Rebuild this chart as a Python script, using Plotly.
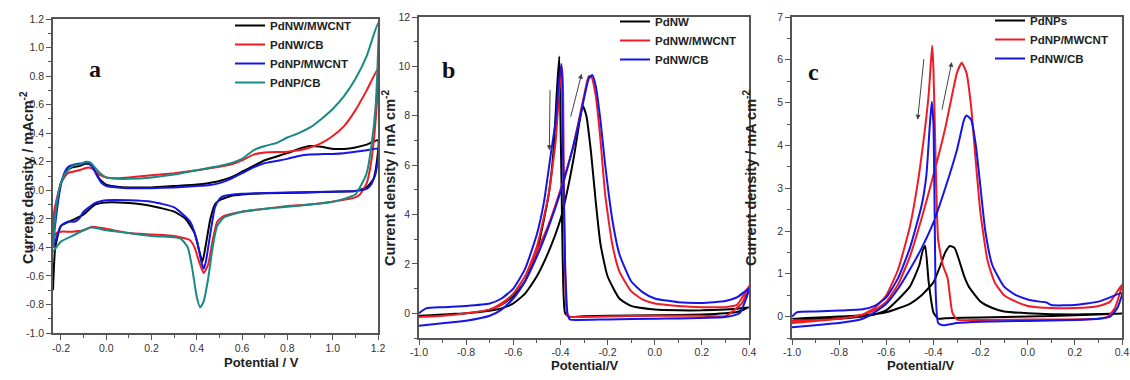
import plotly.graph_objects as go

W, H = 1130, 380

# ---------------- Panel a data (potential V, current density mA cm-2) ----------------
a_legend = ["PdNW/MWCNT", "PdNW/CB", "PdNP/MWCNT", "PdNP/CB"]
a_colors = ["#000000", "#ee1c25", "#1515e6", "#178a84"]

a_nw_mwcnt = [(-0.235, -0.3), (-0.2, 0.05), (-0.17, 0.14), (-0.15, 0.16), (-0.12, 0.17), (-0.09, 0.185),
              (-0.07, 0.18), (-0.05, 0.14), (-0.03, 0.08), (0.0, 0.04), (0.05, 0.025), (0.1, 0.02), (0.2, 0.02),
              (0.3, 0.03), (0.4, 0.04), (0.45, 0.05), (0.5, 0.065), (0.55, 0.09), (0.6, 0.13), (0.65, 0.17),
              (0.7, 0.21), (0.8, 0.26), (0.85, 0.29), (0.9, 0.31), (0.95, 0.305), (1.0, 0.29), (1.05, 0.29),
              (1.1, 0.3), (1.15, 0.32), (1.2, 0.35),
              (1.195, 0.2), (1.18, 0.08), (1.15, 0.02), (1.1, -0.005), (1.0, -0.01), (0.9, -0.015), (0.7, -0.02),
              (0.6, -0.03), (0.55, -0.04), (0.5, -0.07), (0.48, -0.1), (0.46, -0.2), (0.44, -0.38), (0.425, -0.5),
              (0.41, -0.42), (0.39, -0.3), (0.35, -0.2), (0.3, -0.15), (0.2, -0.11), (0.1, -0.09), (0.0, -0.085),
              (-0.05, -0.1), (-0.1, -0.17), (-0.15, -0.21), (-0.2, -0.25), (-0.225, -0.4), (-0.235, -0.7)]

a_nw_cb = [(-0.235, -0.3), (-0.23, -0.15), (-0.2, 0.05), (-0.17, 0.12), (-0.12, 0.14), (-0.08, 0.16),
           (-0.06, 0.15), (-0.03, 0.11), (0.0, 0.09), (0.05, 0.085), (0.1, 0.09), (0.2, 0.105), (0.3, 0.12),
           (0.4, 0.14), (0.5, 0.165), (0.55, 0.18), (0.6, 0.21), (0.65, 0.25), (0.7, 0.265), (0.8, 0.27),
           (0.85, 0.28), (0.9, 0.3), (0.95, 0.33), (1.0, 0.38), (1.05, 0.45), (1.1, 0.56), (1.15, 0.7), (1.2, 0.85),
           (1.19, 0.5), (1.17, 0.2), (1.15, 0.05), (1.12, -0.03), (1.1, -0.05), (1.0, -0.08), (0.9, -0.1),
           (0.8, -0.11), (0.7, -0.13), (0.6, -0.15), (0.52, -0.18), (0.49, -0.22), (0.47, -0.35), (0.45, -0.52),
           (0.43, -0.58), (0.41, -0.5), (0.39, -0.4), (0.37, -0.35), (0.3, -0.32), (0.2, -0.31), (0.1, -0.3),
           (0.0, -0.27), (-0.06, -0.255), (-0.1, -0.28), (-0.15, -0.29), (-0.2, -0.29), (-0.22, -0.3),
           (-0.235, -0.35)]

a_np_mwcnt = [(-0.235, -0.4), (-0.21, -0.05), (-0.19, 0.1), (-0.17, 0.16), (-0.14, 0.18), (-0.1, 0.19),
              (-0.08, 0.19), (-0.06, 0.16), (-0.04, 0.1), (-0.02, 0.05), (0.0, 0.03), (0.05, 0.02), (0.1, 0.015),
              (0.2, 0.015), (0.3, 0.02), (0.4, 0.03), (0.45, 0.035), (0.5, 0.05), (0.55, 0.08), (0.6, 0.12),
              (0.65, 0.16), (0.7, 0.19), (0.8, 0.22), (0.85, 0.24), (0.9, 0.25), (1.0, 0.255), (1.05, 0.26),
              (1.1, 0.27), (1.15, 0.28), (1.2, 0.29),
              (1.19, 0.12), (1.17, 0.04), (1.15, 0.01), (1.1, -0.005), (1.0, -0.01), (0.8, -0.015), (0.6, -0.025),
              (0.52, -0.04), (0.5, -0.06), (0.48, -0.12), (0.46, -0.3), (0.44, -0.5), (0.43, -0.55), (0.42, -0.5),
              (0.4, -0.35), (0.37, -0.22), (0.3, -0.12), (0.2, -0.08), (0.1, -0.07), (0.0, -0.07), (-0.05, -0.09),
              (-0.1, -0.15), (-0.12, -0.2), (-0.14, -0.22), (-0.17, -0.22), (-0.2, -0.25), (-0.235, -0.4)]

a_np_cb = [(-0.235, -0.4), (-0.22, -0.1), (-0.2, 0.05), (-0.18, 0.12), (-0.15, 0.17), (-0.12, 0.18),
           (-0.09, 0.2), (-0.07, 0.195), (-0.05, 0.16), (-0.02, 0.11), (0.0, 0.09), (0.05, 0.08), (0.1, 0.08),
           (0.2, 0.09), (0.3, 0.11), (0.4, 0.14), (0.5, 0.17), (0.55, 0.19), (0.6, 0.22), (0.65, 0.28),
           (0.7, 0.31), (0.75, 0.33), (0.8, 0.37), (0.85, 0.4), (0.9, 0.44), (0.95, 0.5), (1.0, 0.57),
           (1.05, 0.66), (1.1, 0.78), (1.15, 0.94), (1.2, 1.17),
           (1.19, 0.6), (1.17, 0.3), (1.15, 0.12), (1.12, 0.02), (1.1, -0.03), (1.05, -0.06), (1.0, -0.08),
           (0.9, -0.1), (0.8, -0.115), (0.7, -0.13), (0.6, -0.15), (0.52, -0.19), (0.49, -0.25), (0.47, -0.4),
           (0.45, -0.62), (0.43, -0.78), (0.415, -0.82), (0.4, -0.75), (0.38, -0.55), (0.36, -0.4), (0.33, -0.34),
           (0.3, -0.33), (0.2, -0.32), (0.1, -0.3), (0.0, -0.28), (-0.07, -0.26), (-0.1, -0.28), (-0.15, -0.32),
           (-0.2, -0.36), (-0.235, -0.43)]

# ---------------- Panel b data ----------------
b_legend = ["PdNW", "PdNW/MWCNT", "PdNW/CB"]
b_colors = ["#000000", "#ee1c25", "#1515e6"]

b_nw = [(-1.0, -0.1), (-0.9, -0.05), (-0.8, 0.0), (-0.7, 0.1), (-0.65, 0.2), (-0.6, 0.4), (-0.55, 0.8),
        (-0.5, 1.5), (-0.45, 2.5), (-0.4, 3.8), (-0.37, 5.0), (-0.34, 6.5), (-0.32, 7.7), (-0.305, 8.4),
        (-0.29, 8.0), (-0.27, 6.5), (-0.25, 4.5), (-0.23, 2.8), (-0.2, 1.5), (-0.15, 0.6), (-0.1, 0.3),
        (0.0, 0.15), (0.1, 0.12), (0.2, 0.12), (0.3, 0.15), (0.35, 0.18), (0.4, 0.25),
        (0.35, 0.05), (0.3, 0.0), (0.2, -0.05), (0.0, -0.08), (-0.2, -0.1), (-0.3, -0.12), (-0.36, -0.15),
        (-0.38, 0.0), (-0.39, 2.0), (-0.395, 5.0), (-0.4, 8.0), (-0.405, 10.4), (-0.415, 9.0), (-0.43, 6.5),
        (-0.45, 4.8), (-0.5, 2.5), (-0.55, 1.3), (-0.6, 0.7), (-0.65, 0.35), (-0.7, 0.15), (-0.8, 0.0),
        (-0.9, -0.05), (-1.0, -0.1)]

b_nw_mwcnt = [(-1.0, -0.15), (-0.9, -0.1), (-0.8, 0.0), (-0.7, 0.15), (-0.65, 0.35), (-0.6, 0.8),
              (-0.55, 1.5), (-0.5, 2.5), (-0.45, 3.6), (-0.4, 5.0), (-0.35, 6.6), (-0.32, 7.9), (-0.3, 8.8),
              (-0.28, 9.6), (-0.27, 9.6), (-0.25, 8.8), (-0.23, 7.0), (-0.21, 4.8), (-0.18, 2.8), (-0.15, 1.7),
              (-0.1, 0.9), (-0.05, 0.55), (0.0, 0.4), (0.1, 0.3), (0.2, 0.25), (0.3, 0.25), (0.35, 0.35),
              (0.4, 1.1),
              (0.37, 0.4), (0.34, 0.15), (0.32, 0.0), (0.3, -0.12), (0.2, -0.1), (0.0, -0.1), (-0.2, -0.13),
              (-0.3, -0.15), (-0.35, -0.15), (-0.37, -0.1), (-0.38, 1.5), (-0.385, 5.0), (-0.39, 9.5),
              (-0.395, 10.0), (-0.405, 9.0), (-0.42, 7.0), (-0.45, 4.8), (-0.5, 2.7), (-0.55, 1.5), (-0.6, 0.8),
              (-0.65, 0.4), (-0.7, 0.15), (-0.8, 0.0), (-0.9, -0.1), (-1.0, -0.15)]

b_nw_cb = [(-1.0, -0.5), (-0.9, -0.4), (-0.8, -0.3), (-0.7, -0.1), (-0.65, 0.15), (-0.6, 0.6), (-0.55, 1.3),
           (-0.5, 2.3), (-0.45, 3.5), (-0.4, 4.9), (-0.35, 6.6), (-0.32, 7.8), (-0.3, 8.7), (-0.28, 9.5),
           (-0.265, 9.65), (-0.25, 9.2), (-0.23, 7.8), (-0.21, 6.0), (-0.18, 3.8), (-0.15, 2.4), (-0.1, 1.3),
           (-0.05, 0.85), (0.0, 0.6), (0.1, 0.45), (0.2, 0.42), (0.3, 0.5), (0.35, 0.65), (0.4, 1.0),
           (0.38, 0.4), (0.36, 0.0), (0.3, -0.15), (0.0, -0.22), (-0.2, -0.25), (-0.33, -0.27), (-0.36, -0.25),
           (-0.37, 0.0), (-0.38, 2.0), (-0.39, 7.0), (-0.395, 10.1), (-0.405, 9.5), (-0.42, 7.8), (-0.44, 6.5),
           (-0.47, 4.5), (-0.5, 3.2), (-0.55, 1.8), (-0.6, 1.0), (-0.65, 0.6), (-0.7, 0.4), (-0.8, 0.3),
           (-0.9, 0.25), (-0.97, 0.2), (-1.0, 0.0)]

# ---------------- Panel c data ----------------
c_legend = ["PdNPs", "PdNP/MWCNT", "PdNW/CB"]
c_colors = ["#000000", "#ee1c25", "#1515e6"]

c_nps = [(-1.0, -0.05), (-0.8, 0.0), (-0.7, 0.03), (-0.6, 0.1), (-0.5, 0.3), (-0.45, 0.5), (-0.4, 0.8),
         (-0.37, 1.2), (-0.35, 1.5), (-0.33, 1.65), (-0.31, 1.6), (-0.29, 1.3), (-0.27, 0.95), (-0.25, 0.7),
         (-0.2, 0.35), (-0.15, 0.2), (-0.1, 0.12), (0.0, 0.08), (0.2, 0.05), (0.4, 0.07),
         (0.2, 0.03), (0.0, 0.0), (-0.2, -0.02), (-0.35, -0.04), (-0.38, -0.05), (-0.4, 0.1), (-0.42, 0.8),
         (-0.435, 1.65), (-0.445, 1.55), (-0.46, 1.2), (-0.5, 0.7), (-0.55, 0.4), (-0.6, 0.15), (-0.65, 0.05),
         (-0.7, 0.0), (-0.8, -0.05), (-1.0, -0.05)]

c_np_mwcnt = [(-1.0, -0.1), (-0.8, -0.05), (-0.7, 0.05), (-0.65, 0.15), (-0.6, 0.35), (-0.55, 0.75),
              (-0.5, 1.4), (-0.45, 2.3), (-0.4, 3.3), (-0.35, 4.4), (-0.32, 5.2), (-0.3, 5.7), (-0.28, 5.93),
              (-0.26, 5.7), (-0.24, 4.9), (-0.22, 3.6), (-0.2, 2.4), (-0.17, 1.3), (-0.14, 0.8), (-0.1, 0.5),
              (-0.05, 0.35), (0.0, 0.25), (0.1, 0.2), (0.2, 0.2), (0.3, 0.25), (0.35, 0.35), (0.4, 0.75),
              (0.37, 0.2), (0.34, 0.0), (0.3, -0.05), (0.0, -0.07), (-0.2, -0.08), (-0.3, -0.07), (-0.32, 0.1),
              (-0.34, 0.9), (-0.36, 1.2), (-0.38, 1.8), (-0.39, 3.5), (-0.4, 5.8), (-0.405, 6.33), (-0.41, 6.0),
              (-0.42, 5.2), (-0.44, 4.2), (-0.47, 3.0), (-0.5, 2.1), (-0.55, 1.1), (-0.6, 0.5), (-0.65, 0.2),
              (-0.7, 0.05), (-0.8, -0.05), (-1.0, -0.15)]

c_nw_cb = [(-1.0, -0.25), (-0.9, -0.2), (-0.8, -0.15), (-0.7, -0.05), (-0.65, 0.1), (-0.6, 0.3), (-0.55, 0.65),
           (-0.5, 1.1), (-0.45, 1.6), (-0.4, 2.2), (-0.35, 3.0), (-0.3, 3.9), (-0.27, 4.6), (-0.26, 4.7),
           (-0.24, 4.6), (-0.22, 4.0), (-0.2, 3.0), (-0.18, 2.0), (-0.15, 1.2), (-0.1, 0.7), (-0.05, 0.5),
           (0.0, 0.4), (0.05, 0.35), (0.08, 0.33), (0.1, 0.27), (0.2, 0.27), (0.3, 0.35), (0.35, 0.45),
           (0.4, 0.55),
           (0.38, 0.2), (0.35, 0.0), (0.3, -0.05), (0.2, -0.08), (0.0, -0.1), (-0.2, -0.12), (-0.3, -0.15),
           (-0.36, -0.2), (-0.38, -0.15), (-0.39, 0.5), (-0.395, 2.5), (-0.4, 4.5), (-0.407, 5.02),
           (-0.415, 4.5), (-0.43, 3.3), (-0.45, 2.6), (-0.5, 1.6), (-0.55, 0.9), (-0.6, 0.45), (-0.65, 0.25),
           (-0.7, 0.17), (-0.8, 0.14), (-0.9, 0.12), (-0.98, 0.1), (-1.0, 0.0)]

# tick labels
a_xticks = [-0.2, 0.0, 0.2, 0.4, 0.6, 0.8, 1.0, 1.2]
a_yticks = [-1.0, -0.8, -0.6, -0.4, -0.2, 0.0, 0.2, 0.4, 0.6, 0.8, 1.0, 1.2]
bc_xticks = [-1.0, -0.8, -0.6, -0.4, -0.2, 0.0, 0.2, 0.4]
b_yticks = [0, 2, 4, 6, 8, 10, 12]
c_yticks = [0, 1, 2, 3, 4, 5, 6, 7]

# arrows (tail -> head) in data coords
b_arrows = [((-0.444, 9.1), (-0.447, 6.6)), ((-0.358, 7.9), (-0.31, 9.7))]
c_arrows = [((-0.44, 6.05), (-0.467, 4.6)), ((-0.365, 4.8), (-0.322, 5.95))]


def lbl(v, fmt):
    return fmt % v


fig = go.Figure()

panels = [
    ("x", "y", "legend", [a_nw_mwcnt, a_nw_cb, a_np_mwcnt, a_np_cb], a_legend, a_colors),
    ("x2", "y2", "legend2", [b_nw, b_nw_mwcnt, b_nw_cb], b_legend, b_colors),
    ("x3", "y3", "legend3", [c_nps, c_np_mwcnt, c_nw_cb], c_legend, c_colors),
]
for xa, ya, lg, curves, names, cols in panels:
    for pts, nm, col in zip(curves, names, cols):
        fig.add_trace(go.Scatter(
            x=[p[0] for p in pts], y=[p[1] for p in pts], mode="lines", name=nm,
            line=dict(color=col, width=2, shape="spline", smoothing=0.5),
            xaxis=xa, yaxis=ya, legend=lg))

px_x = lambda p: p / W
px_y = lambda p: 1 - p / H

axis_common = dict(showline=True, mirror=True, linecolor="#555", linewidth=1.5, ticks="outside",
                   ticklen=5, tickwidth=1.2, tickcolor="#555", showgrid=False, zeroline=False,
                   automargin=False,
                   tickfont=dict(family="Liberation Sans, Arial", size=10.5, color="#333"))
minor_common = dict(ticks="outside", ticklen=3, tickcolor="#555", tick0=0)

fig.update_layout(
    width=W, height=H, margin=dict(l=0, r=0, t=0, b=0, autoexpand=False),
    paper_bgcolor="white", plot_bgcolor="white", showlegend=True,
    xaxis=dict(domain=[px_x(53), px_x(378)], range=[-0.235, 1.2], anchor="y",
               tickvals=a_xticks, ticktext=[lbl(v, "%.1f") for v in a_xticks],
               minor=dict(dtick=0.1, **minor_common), **axis_common),
    yaxis=dict(domain=[px_y(333), px_y(19)], range=[-1.0, 1.2], anchor="x",
               tickvals=a_yticks, ticktext=[lbl(v, "%.1f") for v in a_yticks],
               minor=dict(dtick=0.1, **minor_common), **axis_common),
    xaxis2=dict(domain=[px_x(419), px_x(749)], range=[-1.0, 0.4], anchor="y2",
                tickvals=bc_xticks, ticktext=[lbl(v, "%.1f") for v in bc_xticks], ticklabelstandoff=-1,
                minor=dict(dtick=0.1, **minor_common), **axis_common),
    yaxis2=dict(domain=[px_y(338), px_y(17)], range=[-1.0, 12], anchor="x2",
                tickvals=b_yticks, ticktext=[str(v) for v in b_yticks],
                minor=dict(dtick=1, **minor_common), **axis_common),
    xaxis3=dict(domain=[px_x(792), px_x(1122)], range=[-1.0, 0.4], anchor="y3",
                tickvals=bc_xticks, ticktext=[lbl(v, "%.1f") for v in bc_xticks], ticklabelstandoff=-1,
                minor=dict(dtick=0.1, **minor_common), **axis_common),
    yaxis3=dict(domain=[px_y(338), px_y(17)], range=[-0.5, 7], anchor="x3",
                tickvals=c_yticks, ticktext=[str(v) for v in c_yticks],
                minor=dict(dtick=0.5, **minor_common), **axis_common),
)

leg_common = dict(bgcolor="rgba(0,0,0,0)", borderwidth=0, tracegroupgap=0, itemwidth=30,
                  font=dict(family="Liberation Sans, Arial", size=11.5, color="#222", weight="bold"),
                  xanchor="left", yanchor="top")
fig.update_layout(
    legend=dict(x=px_x(230), y=px_y(11), **leg_common),
    legend2=dict(x=px_x(615), y=px_y(7), **leg_common),
    legend3=dict(x=px_x(990), y=px_y(6), **leg_common),
)

ann = []
# panel letters
for txt, xx, yy in [("a", 87, 54), ("b", 448, 55), ("c", 821, 57)]:
    ann.append(dict(text=txt, x=px_x(xx), y=px_y(yy), xref="paper", yref="paper", showarrow=False,
                    font=dict(family="Liberation Serif, Times New Roman", size=24, color="#111", weight="bold")))
# axis titles
for txt, xx, yy in [("Potential / V", 222, 372), ("Potential/V", 585, 375), ("Potential/V", 957, 375)]:
    ann.append(dict(text=txt, x=px_x(xx), y=px_y(yy), xref="paper", yref="paper", showarrow=False,
                    font=dict(family="Liberation Sans, Arial", size=13, color="#222", weight="bold")))
tfont = dict(family="Liberation Sans, Arial", size=14.5, color="#222", weight="bold")
for txt, xx, yy in [("Current density / mAcm<sup>-2</sup>", 16, 178),
                    ("Current density / mA cm<sup>-2</sup>", 389, 178),
                    ("Current density / mA cm<sup>-2</sup>", 761, 178)]:
    ann.append(dict(text=txt, x=px_x(xx), y=px_y(yy), xref="paper", yref="paper", showarrow=False,
                    textangle=-90, font=tfont))
# scan-direction arrows
for (xa, ya), arrows in [(("x2", "y2"), b_arrows), (("x3", "y3"), c_arrows)]:
    for (tx, ty), (hx, hy) in arrows:
        ann.append(dict(x=hx, y=hy, ax=tx, ay=ty, xref=xa, yref=ya, axref=xa, ayref=ya, text="",
                        showarrow=True, arrowhead=2, arrowsize=1, arrowwidth=1, arrowcolor="#444"))
fig.update_layout(annotations=ann)

fig.write_html("out.html", config={"displayModeBar": False},
               post_script="document.body.style.margin='0px';")
